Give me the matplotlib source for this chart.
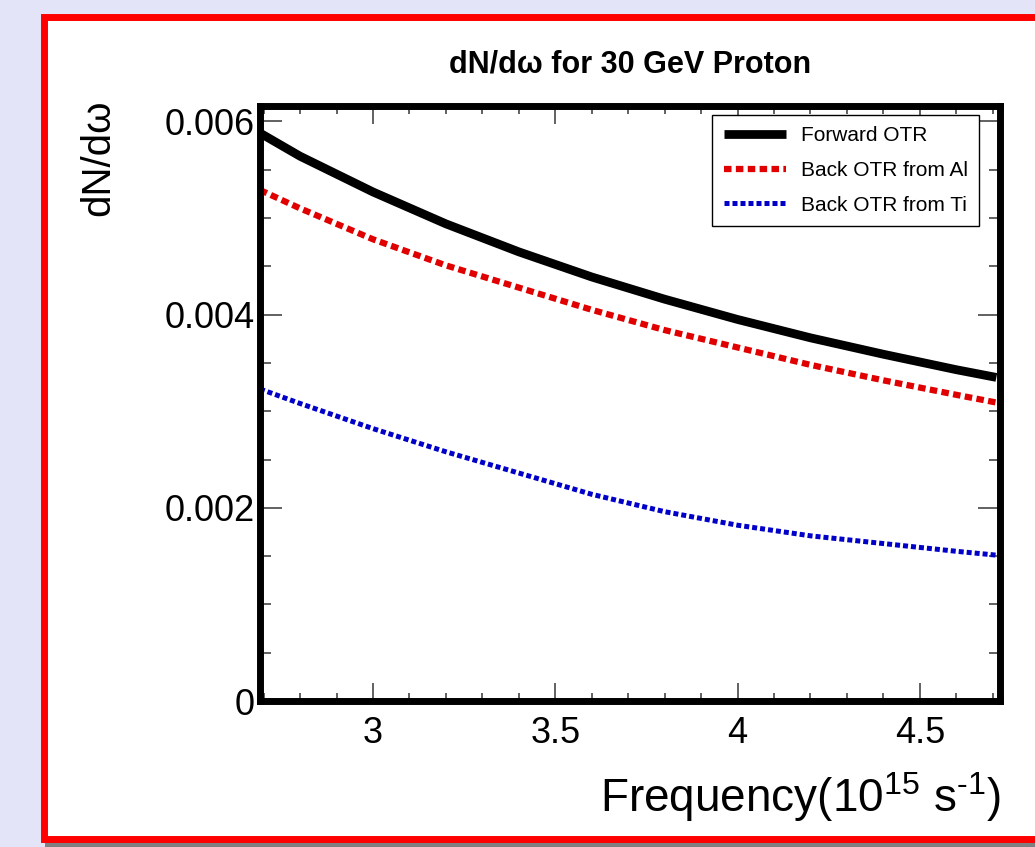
import matplotlib
matplotlib.use("Agg")
import matplotlib.pyplot as plt
from matplotlib.patches import Rectangle
from matplotlib.ticker import MultipleLocator

plt.rcParams['font.family'] = ['Liberation Sans', 'DejaVu Sans']
plt.rcParams['mathtext.fontset'] = 'custom'
plt.rcParams['mathtext.rm'] = 'Liberation Sans'
plt.rcParams['mathtext.it'] = 'Liberation Sans'

# frequency in 10^15 s^-1
freq = [2.69, 2.8, 3.0, 3.2, 3.4, 3.6, 3.8, 4.0, 4.2, 4.4, 4.6, 4.71]
forward_otr = [0.00588, 0.00564, 0.00527, 0.00494, 0.00465, 0.00439,
               0.00416, 0.00395, 0.00376, 0.00359, 0.00343, 0.00335]
back_al = [0.00529, 0.00510, 0.00478, 0.00451, 0.00428, 0.00405,
           0.00384, 0.00366, 0.00348, 0.00332, 0.00317, 0.00309]
back_ti = [0.00323, 0.00308, 0.00282, 0.00258, 0.00236, 0.00214,
           0.00196, 0.00182, 0.00171, 0.00163, 0.00155, 0.00151]
labels = ['Forward OTR', 'Back OTR from Al', 'Back OTR from Ti']

W, H = 1035, 847
fig = plt.figure(figsize=(W / 100, H / 100), dpi=100)
fig.patch.set_facecolor('#e4e4f8')

# frame around the slide area
fig.patches.append(Rectangle((45 / W, 0), 1 - 45 / W, 6 / H, transform=fig.transFigure,
                             facecolor='#808080', edgecolor='none', zorder=-10))
fig.patches.append(Rectangle((43.5 / W, 1 - 838.5 / H), 1.1, (838.5 - 17.5) / H,
                             transform=fig.transFigure, facecolor='white',
                             edgecolor='#ff0000', linewidth=5, zorder=-9))

ax = fig.add_axes([260 / W, 1 - 701 / H, 740 / W, 595 / H])
ax.set_zorder(5)
ax.plot(freq, forward_otr, color='black', lw=6.3, solid_capstyle='butt', label=labels[0])
ax.plot(freq, back_al, color='#e00000', lw=4.5, dashes=(1.2, 0.7),
        dash_capstyle='butt', label=labels[1])
ax.plot(freq, back_ti, color='#0000c8', lw=3.6, dashes=(1.0, 0.6),
        dash_capstyle='butt', label=labels[2])

ax.set_xlim(2.69, 4.72)
ax.set_ylim(0, 0.00616)
ax.xaxis.set_minor_locator(MultipleLocator(0.1))
ax.yaxis.set_minor_locator(MultipleLocator(0.0005))
ax.set_yticks([0, 0.002, 0.004, 0.006])
ax.set_yticklabels(['0', '0.002', '0.004', '0.006'])
ax.set_xticks([3, 3.5, 4, 4.5])
ax.set_xticklabels(['3', '3.5', '4', '4.5'])

ax.tick_params(which='both', direction='in', top=True, right=True, color='#555555',
               width=1.3, labelsize=26)
ax.tick_params(axis='y', which='major', length=16, pad=4)
ax.tick_params(axis='y', which='minor', length=8)
ax.tick_params(axis='x', which='major', length=13, pad=11)
ax.tick_params(axis='x', which='minor', length=6)
for s in ax.spines.values():
    s.set_linewidth(5)

ax.set_title('dN/dω for 30 GeV Proton', fontsize=22, fontweight='bold', pad=24)
fig.text(0.967, 1 - 812 / H, r'Frequency(10$^{15}$ s$^{\text{-1}}$)', fontsize=33,
         ha='right', va='baseline')
fig.text(98 / W, 1 - 100 / H, 'dN/dω', fontsize=29, rotation=90, ha='center', va='top')

leg = ax.legend(loc='upper right', bbox_to_anchor=(0.972, 0.985), borderaxespad=0,
                fontsize=15, frameon=True, fancybox=False, framealpha=1,
                edgecolor='black', handlelength=3.0, handletextpad=0.7,
                labelspacing=0.75, borderpad=0.55)
leg.get_frame().set_linewidth(1)

fig.savefig('out.png', dpi=100, facecolor=fig.get_facecolor())
